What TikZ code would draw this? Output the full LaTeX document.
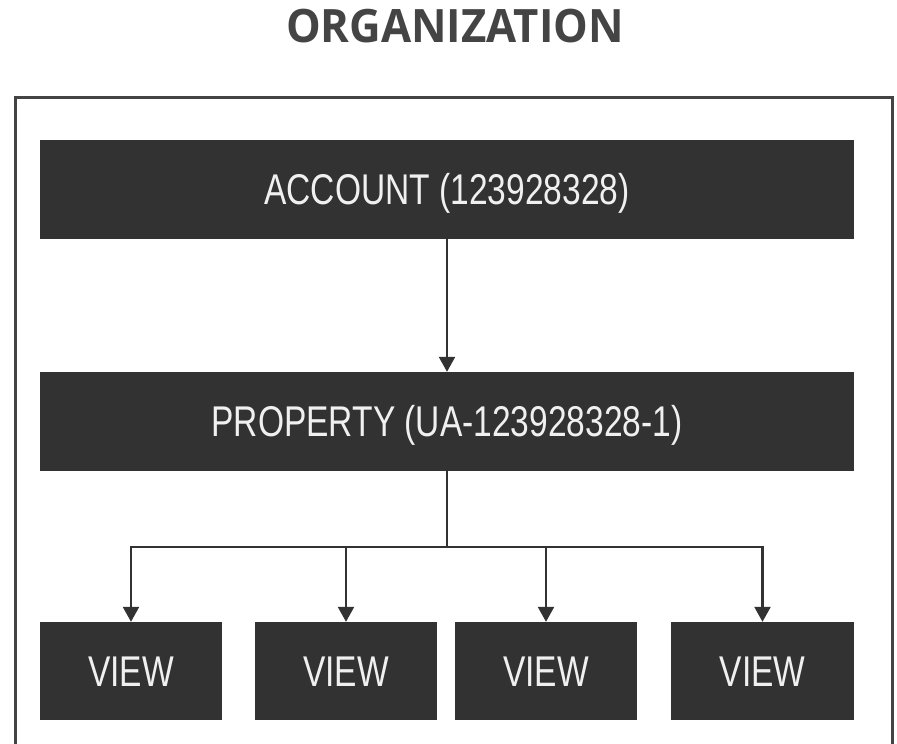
\documentclass[tikz,border=0pt]{standalone}
\usepackage{fontspec}
\usetikzlibrary{arrows.meta}
\newfontfamily\boxfont[FakeStretch=0.78]{Liberation Sans}
\newfontfamily\titlefont[FakeStretch=0.95]{Open Sans}
\definecolor{boxgray}{HTML}{323232}
\definecolor{framegray}{HTML}{444444}
\definecolor{titlegray}{HTML}{444444}
\begin{document}
\begin{tikzpicture}[x=1pt,y=-1pt,
  darkbox/.style={rectangle, fill=boxgray, draw=none, inner sep=0pt,
    text=white!94!black, font=\boxfont\fontsize{43}{45}\selectfont,
    text height=30.8pt, text depth=0pt, minimum height=99pt},
  conn/.style={draw=boxgray, line width=2.4pt},
  arr/.style={conn, -{Triangle[width=16pt,length=15pt]}}
]
\useasboundingbox (0,0) rectangle (897,744);
\fill[white] (0,0) rectangle (897,744);
% title
\node[anchor=base, text=titlegray, font=\titlefont\bfseries\fontsize{46}{48}\selectfont] (title) at (455,42) {ORGANIZATION};
% frame (open at bottom)
\draw[framegray, line width=3pt] (15.5,750) -- (15.5,97.5) -- (892.5,97.5) -- (892.5,750);
% boxes
\node[darkbox, minimum width=814pt] (acc) at (447,189.5) {ACCOUNT (123928328)};
\node[darkbox, minimum width=814pt] (prop) at (447,421.5) {PROPERTY (UA-123928328-1)};
\node[darkbox, minimum width=182pt, minimum height=98pt] (v1) at (131,671) {VIEW};
\node[darkbox, minimum width=182pt, minimum height=98pt] (v2) at (346,671) {VIEW};
\node[darkbox, minimum width=182pt, minimum height=98pt] (v3) at (546,671) {VIEW};
\node[darkbox, minimum width=183pt, minimum height=98pt] (v4) at (762.5,671) {VIEW};
% connectors
\draw[arr] (acc) -- (prop);
\coordinate (bus) at (447,547);
\draw[conn] (prop) -- (bus);
\draw[arr] (bus) -| (v1);
\draw[arr] (bus) -| (v2);
\draw[arr] (bus) -| (v3);
\draw[arr] (bus) -| (v4);
\end{tikzpicture}
\end{document}
